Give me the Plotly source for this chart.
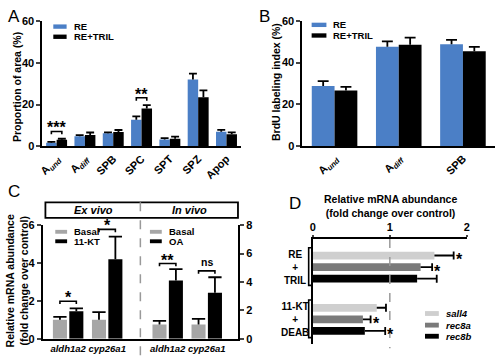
import plotly.graph_objects as go

# ---------------- data ----------------
# Panel A
A_CATS = ["A<sub><i>und</i></sub>", "A<sub><i>diff</i></sub>", "SPB", "SPC", "SPT", "SPZ", "Apop"]
A_RE = [1.7, 4.8, 6.2, 12.7, 3.2, 32.1, 7.0]
A_RE_ERR = [0.4, 0.5, 0.5, 1.7, 0.7, 2.8, 0.9]
A_TRIL = [3.1, 5.4, 6.8, 18.1, 3.6, 23.6, 5.7]
A_TRIL_ERR = [0.5, 1.2, 1.0, 1.7, 1.0, 3.3, 1.0]
A_SIG = ["***", "", "", "**", "", "", ""]

# Panel B
B_CATS = ["A<sub><i>und</i></sub>", "A<sub><i>diff</i></sub>", "SPB"]
B_RE = [28.7, 47.5, 48.7]
B_RE_ERR = [2.4, 2.6, 2.2]
B_TRIL = [26.6, 48.5, 45.4]
B_TRIL_ERR = [1.7, 3.4, 2.1]

# Panel C
C_GENES = ["aldh1a2", "cyp26a1"]
C_EX_BASAL = [1.0, 1.0]
C_EX_BASAL_ERR = [0.15, 0.4]
C_EX_KT = [1.45, 4.2]
C_EX_KT_ERR = [0.15, 1.2]
C_IN_BASAL = [1.0, 1.0]
C_IN_BASAL_ERR = [0.25, 0.4]
C_IN_OA = [4.1, 3.23]
C_IN_OA_ERR = [0.8, 1.1]
C_EX_SIG = ["*", "*"]
C_IN_SIG = ["**", "ns"]

# Panel D
D_GROUPS = ["RE<br>+<br>TRIL", "11-KT<br>+<br>DEAB"]
D_SERIES = ["sall4", "rec8a", "rec8b"]
D_SALL4 = [1.58, 0.83]
D_SALL4_ERR = [0.25, 0.12]
D_REC8A = [1.40, 0.65]
D_REC8A_ERR = [0.15, 0.10]
D_REC8B = [1.355, 0.675]
D_REC8B_ERR = [0.255, 0.265]
D_SALL4_SIG = ["*", ""]
D_REC8A_SIG = ["*", "*"]
D_REC8B_SIG = ["", "*"]

# ---------------- style ----------------
FONT = "Arial, Liberation Sans, sans-serif"
BLUE = "#4b7fc6"
GRAY_C = "#a6a6a6"
LIGHT = "#cfcfcf"
MID = "#7a7a7a"
W, H = 500, 364


def px(x):
    return x / W


def py(y):
    return 1 - y / H


fig = go.Figure()


def err_v(xs, tops, errs, half):
    X, Y = [], []
    for x, t, e in zip(xs, tops, errs):
        X += [x, x, None, x - half, x + half, None]
        Y += [t, t + e, None, t + e, t + e, None]
    return X, Y


def err_h(ys, ends, errs, half):
    X, Y = [], []
    for y, t, e in zip(ys, ends, errs):
        X += [t, t + e, None, t + e, t + e, None]
        Y += [y, y, None, y - half, y + half, None]
    return X, Y


def add_lines(X, Y, xa, ya, width=1.8, color="black"):
    fig.add_trace(go.Scatter(x=X, y=Y, mode="lines", xaxis=xa, yaxis=ya,
                             line=dict(color=color, width=width),
                             hoverinfo="skip", showlegend=False))


def add_bars(xs, ys, off, wid, color, xa, ya, horiz=False):
    if horiz:
        fig.add_trace(go.Bar(y=xs, x=ys, orientation="h", offset=off, width=wid,
                             marker=dict(color=color, line=dict(width=0)),
                             xaxis=xa, yaxis=ya, showlegend=False))
    else:
        fig.add_trace(go.Bar(x=xs, y=ys, offset=off, width=wid,
                             marker=dict(color=color, line=dict(width=0)),
                             xaxis=xa, yaxis=ya, showlegend=False))


annotations = []
shapes = []


def bracket(x0, x1, y, drop, xa, ya, text, size=16, shift=-7):
    add_lines([x0, x0, x1, x1], [y - drop, y, y, y - drop], xa, ya, width=1.6)
    annotations.append(dict(x=(x0 + x1) / 2, y=y, xref=xa, yref=ya, text=text,
                            showarrow=False, yanchor="bottom", yshift=shift,
                            font=dict(size=size, family=FONT, color="black", weight="bold")))


# ---------------- Panel A ----------------
AW = 0.37
A_X = list(range(len(A_CATS)))
add_bars(A_X, A_RE, -AW, AW, BLUE, "x", "y")
add_bars(A_X, A_TRIL, 0.0, AW, "black", "x", "y")
X, Y = err_v([x - AW / 2 for x in A_X], A_RE, A_RE_ERR, 0.14)
add_lines(X, Y, "x", "y")
X, Y = err_v([x + AW / 2 for x in A_X], A_TRIL, A_TRIL_ERR, 0.14)
add_lines(X, Y, "x", "y")
for i, s in enumerate(A_SIG):
    if s:
        top = max(A_RE[i] + A_RE_ERR[i], A_TRIL[i] + A_TRIL_ERR[i])
        bracket(i - AW / 2, i + AW / 2, top + 3.5, 1.4, "x", "y", s)

# ---------------- Panel B ----------------
BW = 0.355
B_X = list(range(len(B_CATS)))
add_bars(B_X, B_RE, -BW, BW, BLUE, "x2", "y2")
add_bars(B_X, B_TRIL, 0.0, BW, "black", "x2", "y2")
X, Y = err_v([x - BW / 2 for x in B_X], B_RE, B_RE_ERR, 0.085)
add_lines(X, Y, "x2", "y2")
X, Y = err_v([x + BW / 2 for x in B_X], B_TRIL, B_TRIL_ERR, 0.085)
add_lines(X, Y, "x2", "y2")

# ---------------- Panel C ----------------
C_POS = [0.65, 1.65, 3.2, 4.2]
CW = 0.36
ex_pos, in_pos = C_POS[:2], C_POS[2:]
add_bars(ex_pos, C_EX_BASAL, -0.39, CW, GRAY_C, "x3", "y3")
add_bars(ex_pos, C_EX_KT, 0.03, CW, "black", "x3", "y3")
add_bars(in_pos, C_IN_BASAL, -0.39, CW, GRAY_C, "x3", "y4")
add_bars(in_pos, C_IN_OA, 0.03, CW, "black", "x3", "y4")
bc = -0.39 + CW / 2
tc = 0.03 + CW / 2
X, Y = err_v([p + bc for p in ex_pos], C_EX_BASAL, C_EX_BASAL_ERR, 0.17)
add_lines(X, Y, "x3", "y3")
X, Y = err_v([p + tc for p in ex_pos], C_EX_KT, C_EX_KT_ERR, 0.17)
add_lines(X, Y, "x3", "y3")
X, Y = err_v([p + bc for p in in_pos], C_IN_BASAL, C_IN_BASAL_ERR, 0.17)
add_lines(X, Y, "x3", "y4")
X, Y = err_v([p + tc for p in in_pos], C_IN_OA, C_IN_OA_ERR, 0.17)
add_lines(X, Y, "x3", "y4")
for i, s in enumerate(C_EX_SIG):
    top = max(C_EX_BASAL[i] + C_EX_BASAL_ERR[i], C_EX_KT[i] + C_EX_KT_ERR[i])
    bracket(ex_pos[i] + bc, ex_pos[i] + tc, top + 0.38, 0.15, "x3", "y3", s)
for i, s in enumerate(C_IN_SIG):
    top = max(C_IN_BASAL[i] + C_IN_BASAL_ERR[i], C_IN_OA[i] + C_IN_OA_ERR[i])
    if s == "ns":
        bracket(in_pos[i] + bc, in_pos[i] + tc, top + 0.45, 0.2, "x3", "y4", s, size=10.5, shift=1)
    else:
        bracket(in_pos[i] + bc, in_pos[i] + tc, top + 0.4, 0.2, "x3", "y4", s)

# ---------------- Panel D ----------------
D_Y = list(range(len(D_GROUPS)))
DW = 0.148
d_vals = [D_SALL4, D_REC8A, D_REC8B]
d_errs = [D_SALL4_ERR, D_REC8A_ERR, D_REC8B_ERR]
d_sigs = [D_SALL4_SIG, D_REC8A_SIG, D_REC8B_SIG]
d_cols = [LIGHT, MID, "black"]
d_offs = [-0.296, -0.074, 0.148]
for v, c, o in zip(d_vals, d_cols, d_offs):
    add_bars(D_Y, v, o, DW, c, "x4", "y5", horiz=True)
for v, e, o, sg in zip(d_vals, d_errs, d_offs, d_sigs):
    ys = [y + o + DW / 2 for y in D_Y]
    X, Y = err_h(ys, v, e, 0.075)
    add_lines(X, Y, "x4", "y5")
    for yy, vv, ee, s in zip(ys, v, e, sg):
        if s:
            annotations.append(dict(x=vv + ee, y=yy, xref="x4", yref="y5", text=s,
                                    showarrow=False, xanchor="left", yanchor="middle",
                                    xshift=0, yshift=-4,
                                    font=dict(size=16, family=FONT, color="black", weight="bold")))

# group labels and brackets in D
for y, g in zip(D_Y, D_GROUPS):
    annotations.append(dict(x=px(295), y=y, xref="paper", yref="y5", text=g,
                            showarrow=False, align="center", xanchor="center", yanchor="middle",
                            font=dict(size=10, family=FONT, color="black", weight="bold")))
    shapes.append(dict(type="path", xref="paper", yref="y5",
                       path=f"M {px(313)},{y - 0.37} L {px(309)},{y - 0.37} L {px(309)},{y + 0.35} L {px(313)},{y + 0.35}",
                       line=dict(color="black", width=1.6)))

# dashed reference line at 1 in D
shapes.append(dict(type="line", xref="x4", yref="paper", x0=1, x1=1, y0=py(241), y1=py(354),
                   line=dict(color="#999999", width=1.5, dash="dash")))
annotations.append(dict(x=px(391.5), y=py(191.5), xref="paper", yref="paper",
                        text="Relative mRNA abundance<br>(fold change over control)",
                        showarrow=False, xanchor="center", yanchor="top", align="center",
                        font=dict(size=10.5, family=FONT, color="black", weight="bold")))

# ---------------- Panel C decorations ----------------
shapes.append(dict(type="rect", xref="paper", yref="paper", x0=px(42), x1=px(237.3),
                   y0=py(219), y1=py(203), line=dict(color="black", width=1.8)))
shapes.append(dict(type="line", xref="paper", yref="paper", x0=px(138.3), x1=px(138.3),
                   y0=py(203), y1=py(363), line=dict(color="#999999", width=1.5, dash="dash")))
for txt, xc in [("<i>Ex vivo</i>", 91), ("<i>In vivo</i>", 188)]:
    annotations.append(dict(x=px(xc), y=py(211), xref="paper", yref="paper", text=txt,
                            showarrow=False, xanchor="center", yanchor="middle",
                            font=dict(size=11, family=FONT, color="black", weight="bold")))

# ---------------- manual legends ----------------
def legend_item(x0, x1, yc, h, color, text, size=9.5, italic=False):
    shapes.append(dict(type="rect", xref="paper", yref="paper", x0=px(x0), x1=px(x1),
                       y0=py(yc + h / 2), y1=py(yc - h / 2), fillcolor=color,
                       line=dict(width=0)))
    annotations.append(dict(x=px(x1 + 5), y=py(yc), xref="paper", yref="paper",
                            text=f"<i>{text}</i>" if italic else text,
                            showarrow=False, xanchor="left", yanchor="middle",
                            font=dict(size=size, family=FONT, color="black", weight="bold")))


legend_item(50, 63.5, 21.3, 4.5, BLUE, "RE")
legend_item(50, 63.5, 31.8, 4.5, "black", "RE+TRIL")
legend_item(312, 327, 19.5, 4.5, BLUE, "RE")
legend_item(312, 327, 30.5, 4.5, "black", "RE+TRIL")
legend_item(52, 64, 233.5, 4, GRAY_C, "Basal")
legend_item(52, 64, 243.3, 4, "black", "11-KT")
legend_item(148, 160, 233.5, 4, GRAY_C, "Basal")
legend_item(148, 160, 243.3, 4, "black", "OA")
for name, col, yc in zip(D_SERIES, d_cols, [318, 330, 341.5]):
    legend_item(427, 441, yc, 5, col, name, italic=True)

# ---------------- titles & letters ----------------
def ytitle(text, xc, yc, size=10.5):
    annotations.append(dict(x=px(xc), y=py(yc), xref="paper", yref="paper", text=text,
                            showarrow=False, textangle=-90, xanchor="center", yanchor="middle",
                            align="center",
                            font=dict(size=size, family=FONT, color="black", weight="bold")))


ytitle("Proportion of area (%)", 13, 84)
ytitle("BrdU labeling index (%)", 276.5, 79)
ytitle("Relative mRNA abundance<br>(fold change over control)", 13, 284, size=10.5)

for letter, lx, ly in [("A", 2, -1), ("B", 257, -1), ("C", 2, 180), ("D", 287, 192)]:
    annotations.append(dict(x=px(lx), y=py(ly), xref="paper", yref="paper", text=letter,
                            showarrow=False, xanchor="left", yanchor="top",
                            font=dict(size=17, family=FONT, color="black")))

# ---------------- axes ----------------
TICKF = dict(size=11, family=FONT, color="black", weight="bold")
base_ax = dict(showline=True, linecolor="black", linewidth=2, showgrid=False, zeroline=False,
               tickfont=TICKF, fixedrange=True)

fig.update_layout(
    width=W, height=H, margin=dict(l=0, r=0, t=0, b=0),
    paper_bgcolor="white", plot_bgcolor="white",
    font=dict(family=FONT, color="black"),
    barmode="overlay", showlegend=False,
    xaxis=dict(base_ax, domain=[px(39), px(240)], anchor="y", range=[-0.5, 6.5],
               tickvals=A_X, ticktext=A_CATS, tickangle=-45, ticks=""),
    yaxis=dict(base_ax, domain=[py(145), py(16)], anchor="x", range=[0, 60],
               tickvals=[0, 20, 40, 60], ticks="outside", ticklen=4, tickwidth=2),
    xaxis2=dict(base_ax, domain=[px(302.7), px(498)], anchor="y2", range=[-0.5, 2.5],
                tickvals=B_X, ticktext=B_CATS, tickangle=-45, ticks=""),
    yaxis2=dict(base_ax, domain=[py(144.7), py(15.3)], anchor="x2", range=[0, 60],
                tickvals=[0, 20, 40, 60], ticks="outside", ticklen=4, tickwidth=2),
    xaxis3=dict(base_ax, domain=[px(39.3), px(237.3)], anchor="y3", range=[0, 5],
                tickvals=C_POS, ticktext=[f"<i>{g}</i>" for g in C_GENES * 2], ticks="",
                tickangle=0, tickfont=dict(TICKF, size=9.5)),
    yaxis3=dict(base_ax, domain=[py(344), py(226.7)], anchor="x3", range=[0, 6],
                tickvals=[0, 2, 4, 6], ticks="outside", ticklen=4, tickwidth=2),
    yaxis4=dict(base_ax, overlaying="y3", anchor="x3", side="right", range=[0, 8],
                tickvals=[0, 2, 4, 6, 8], ticks="outside", ticklen=4, tickwidth=2),
    xaxis4=dict(base_ax, domain=[px(313.3), px(469.3)], anchor="y5", side="top", range=[0, 2],
                tickvals=[0, 1, 2], ticks="outside", ticklen=2, tickwidth=2),
    yaxis5=dict(base_ax, domain=[py(350), py(241)], anchor="x4", range=[1.48, -0.537],
                showticklabels=False, ticks=""),
    annotations=annotations, shapes=shapes,
)

fig.write_html("out.html", config={"displayModeBar": False},
               post_script="document.body.style.margin='0';document.body.style.overflow='hidden';")
